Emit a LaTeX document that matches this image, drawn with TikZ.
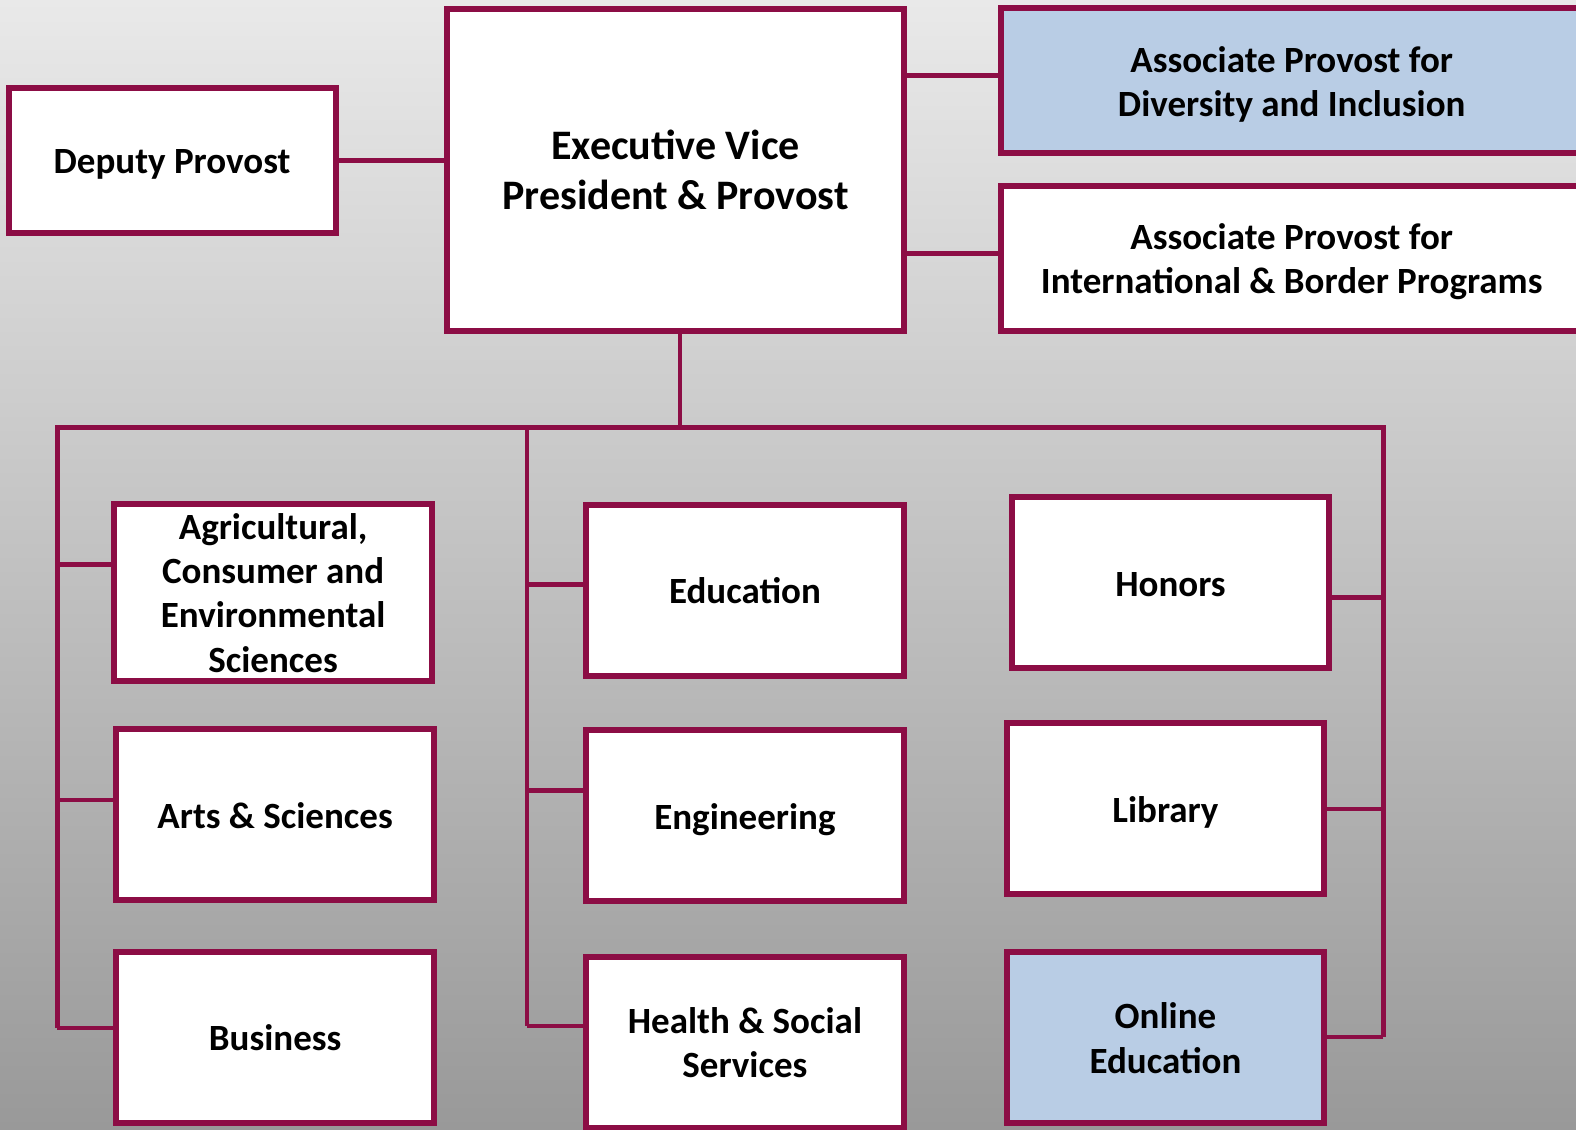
\documentclass[tikz,border=0pt]{standalone}
\usepackage{fontspec}
\setmainfont{Carlito}
\definecolor{unitborder}{HTML}{8C0D45}
\definecolor{unitblue}{HTML}{B9CDE5}
\definecolor{bgtop}{HTML}{E9E9E9}
\definecolor{bgbottom}{HTML}{999999}
\newcommand{\linestrut}{\rule[-0.25em]{0pt}{1.22em}}

\begin{document}
\begin{tikzpicture}[x=0.503pt, y=-0.503pt,
    unit/.style={draw=unitborder, line width=3pt, fill=white, align=center, inner sep=0pt,
        font=\bfseries\fontsize{18.5}{22.1}\selectfont,
        execute at begin node=\linestrut, execute at end node=\linestrut},
    college/.style={unit, minimum width=158.9pt, minimum height=85.5pt},
    link/.style={draw=unitborder, line width=2.25pt}]

    % Background
    \shade[top color=bgtop, bottom color=bgbottom] (0,0) rectangle (1566.6,1122.3);
    \useasboundingbox (0,0) rectangle (1566.6,1122.3);

    % Provost office
    \node[unit, minimum width=228.3pt, minimum height=161pt,
        font=\bfseries\fontsize{21}{25.2}\selectfont] (evp) at (671.5,168.5) {\linestrut Executive Vice\\President \& Provost};
    \node[unit, minimum width=163.5pt, minimum height=72.5pt] (dep) at (171,159.5) {Deputy Provost};
    \node[unit, fill=unitblue, minimum width=291pt, minimum height=72.5pt] (div) at (1284,80.5) {\linestrut Associate Provost for\\Diversity and Inclusion};
    \node[unit, minimum width=291pt, minimum height=72.5pt] (intl) at (1284,256.5) {\linestrut Associate Provost for\\International \& Border Programs};

    % Colleges
    \node[college] (agr) at (271.5,589) {\linestrut Agricultural,\\Consumer and\\Environmental\\Sciences};
    \node[college] (arts) at (273.5,810) {Arts \& Sciences};
    \node[college] (biz) at (273.5,1031) {Business};
    \node[college] (edu) at (740.5,586.5) {Education};
    \node[college] (eng) at (740.5,811) {Engineering};
    \node[college] (hss) at (740.5,1036) {\linestrut Health \& Social\\Services};
    \node[college] (hon) at (1163.5,579.5) {Honors};
    \node[college] (lib) at (1158.5,804) {Library};
    \node[college, fill=unitblue] (onl) at (1158.5,1031.5) {\linestrut Online\\Education};

    % Links to the provost
    \draw[link] (dep.east) -- (dep.east -| evp.west);
    \draw[link] ([yshift=2.8pt]div.west) -- ([yshift=2.8pt]div.west -| evp.east);
    \draw[link] ([yshift=2.3pt]intl.west) -- ([yshift=2.3pt]intl.west -| evp.east);

    % Bus line
    \coordinate (busL) at (57,425);
    \coordinate (busM) at (524,425);
    \coordinate (busR) at (1375,425);
    \coordinate (evpfoot) at ([xshift=2.3pt]evp.south);
    \draw[link] (evpfoot) -- (evpfoot |- busL);

    \foreach \nm/\xx/\yy in {agr/57/561, arts/57/795, biz/57/1022,
            edu/524/581, eng/524/786, hss/524/1020,
            hon/1375/594, lib/1375/804, onl/1375/1031}
        \coordinate (j\nm) at (\xx,\yy);

    \draw[link] (jbiz) -- (busL) -- (busR) -- (jonl);
    \draw[link] (busM) -- (jhss);

    % Branches
    \foreach \nm in {agr, arts, biz, edu, eng, hss}
        \draw[link] (j\nm) -- (j\nm -| \nm.west);
    \foreach \nm in {hon, lib, onl}
        \draw[link] (j\nm) -- (j\nm -| \nm.east);
\end{tikzpicture}
\end{document}
